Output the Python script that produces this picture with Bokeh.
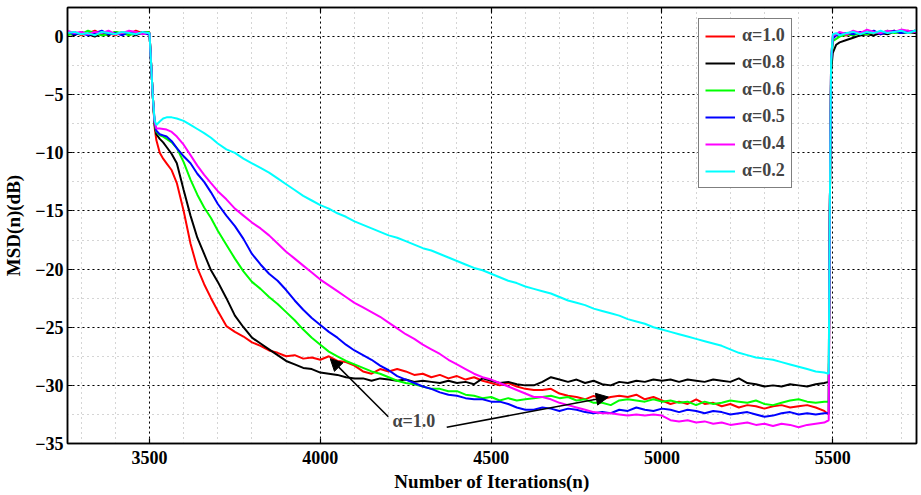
from bokeh.plotting import figure
from bokeh.models import (Range1d, LinearAxis, SingleIntervalTicker, Legend,
                          LegendItem, Arrow, NormalHead, Label, CustomJSTickFormatter)
from bokeh.embed import file_html
from bokeh.resources import INLINE

# ---------------- data ----------------
iters = ([3260, 3280, 3300, 3320, 3340, 3360, 3380, 3400, 3420, 3440, 3460, 3480, 3495,
          3500, 3505, 3510, 3515, 3520,
          3530, 3540, 3550, 3565, 3580, 3600, 3620, 3640, 3660, 3680, 3700, 3725, 3750, 3775, 3800]
         + list(range(3825, 5476, 25))
         + [5488, 5491, 5495, 5500, 5510,
            5520, 5540, 5560, 5580, 5600, 5620, 5640, 5660, 5680, 5700, 5720, 5740, 5750])

msd_a10 = ([0.2, 0.4, 0.1, 0.3, 0.5, 0.2, 0.3, 0.1, 0.4, 0.2, 0.5, 0.3, 0.4]
           + [0.3, -2.5, -5.3, -7.8, -8.9, -10.0, -10.5, -10.9, -11.5, -12.6, -15.0, -17.8, -19.9,
              -21.3, -22.5, -23.6, -24.9, -25.4, -25.8, -26.3]
           + [-26.6, -27.0, -27.2, -27.5, -27.4, -27.7, -27.6, -27.8, -27.5, -27.9,
              -28.0, -28.3, -28.8, -29.0, -28.6, -28.8, -28.6, -28.8, -29.1, -29.0,
              -29.3, -29.1, -29.4, -29.2, -29.5, -29.3, -29.6, -29.8, -30.0, -29.8,
              -30.1, -30.3, -30.4, -30.4, -30.3, -30.7, -30.9, -31.0, -31.2, -30.9,
              -31.2, -31.0, -30.9, -31.0, -30.8, -31.2, -31.0, -31.3, -31.6, -31.4,
              -31.6, -31.2, -31.6, -31.5, -31.8, -31.6, -31.9, -31.7, -31.8, -32.0,
              -31.8, -31.7, -31.9, -31.8, -31.7, -31.9, -32.2]
           + [-32.5, -16.0, -2.0, 0.0, 0.1,
              0.2, 0.1, 0.3, 0.2, 0.4, 0.3, 0.2, 0.4, 0.5, 0.3, 0.5, 0.4, 0.5])

msd_a08 = ([0.3, 0.1, 0.4, 0.2, 0.0, 0.3, 0.1, 0.4, 0.2, 0.3, 0.1, 0.4, 0.3]
           + [0.3, -2.5, -5.3, -7.6, -8.4, -8.8, -9.1, -9.5, -10.1, -10.9, -13.2, -15.4, -17.3,
              -18.7, -20.1, -21.1, -22.5, -24.0, -25.0, -25.9]
           + [-26.4, -26.9, -27.4, -27.9, -28.2, -28.5, -28.6, -28.9, -29.0, -29.1,
              -29.3, -29.4, -29.4, -29.6, -29.4, -29.5, -29.6, -29.5, -29.7, -29.6,
              -29.7, -29.8, -29.6, -29.8, -29.7, -29.9, -29.4, -29.6, -29.8, -29.7,
              -29.9, -30.0, -30.0, -29.7, -29.3, -29.5, -29.7, -29.5, -29.8, -29.6,
              -29.9, -30.0, -29.7, -29.8, -29.6, -29.7, -29.5, -29.6, -29.5, -29.7,
              -29.5, -29.6, -29.7, -29.5, -29.6, -29.7, -29.4, -29.8, -29.9, -30.1,
              -30.0, -30.1, -29.9, -30.0, -30.1, -29.9, -29.8]
           + [-29.7, -16.0, -3.0, -1.4, -0.7,
              -0.5, -0.3, -0.1, 0.1, 0.2, 0.1, 0.3, 0.2, 0.4, 0.3, 0.4, 0.3, 0.4])

msd_a06 = ([0.1, 0.3, 0.2, 0.5, 0.3, 0.1, 0.2, 0.4, 0.3, 0.1, 0.3, 0.2, 0.4]
           + [0.3, -2.5, -5.3, -7.5, -8.2, -8.5, -8.6, -8.8, -9.1, -9.6, -10.8, -12.3, -13.6,
              -14.7, -15.6, -16.7, -17.9, -19.1, -20.2, -21.1]
           + [-21.7, -22.4, -23.0, -23.7, -24.4, -25.2, -25.9, -26.5, -27.1, -27.5,
              -27.9, -28.2, -28.5, -28.8, -29.0, -29.3, -29.6, -29.8, -29.9, -30.1,
              -30.3, -30.3, -30.5, -30.5, -30.8, -30.9, -31.1, -31.0, -31.3, -31.1,
              -31.3, -31.2, -31.1, -31.0, -30.9, -31.1, -31.0, -31.3, -31.2, -31.5,
              -31.5, -31.7, -31.3, -31.2, -31.3, -31.4, -31.2, -31.4, -31.3, -31.5,
              -31.4, -31.7, -31.4, -31.6, -31.5, -31.3, -31.4, -31.5, -31.3, -31.6,
              -31.7, -31.5, -31.3, -31.2, -31.4, -31.5, -31.4]
           + [-31.4, -16.0, -2.5, -0.4, -0.2,
              0.0, 0.2, 0.1, 0.3, 0.2, 0.4, 0.3, 0.5, 0.3, 0.4, 0.3, 0.5, 0.4])

msd_a05 = ([0.4, 0.2, 0.3, 0.1, 0.3, 0.5, 0.2, 0.3, 0.1, 0.4, 0.2, 0.3, 0.2]
           + [0.3, -2.5, -5.3, -7.4, -8.1, -8.4, -8.5, -8.6, -9.0, -9.6, -10.3, -10.9, -11.8,
              -12.5, -13.4, -14.4, -15.4, -16.3, -17.4, -18.7]
           + [-19.6, -20.4, -21.0, -21.8, -22.7, -23.5, -24.2, -24.8, -25.4, -25.9,
              -26.5, -27.0, -27.4, -27.8, -28.3, -28.7, -29.2, -29.5, -29.8, -30.1,
              -30.3, -30.6, -30.8, -30.9, -31.1, -31.2, -31.2, -31.4, -31.4, -31.6,
              -31.9, -32.1, -32.1, -31.9, -32.0, -32.2, -32.0, -32.1, -32.3, -32.4,
              -32.3, -32.4, -32.1, -32.2, -31.9, -32.1, -32.2, -32.0, -32.1, -32.3,
              -32.1, -32.2, -32.4, -32.2, -32.3, -32.5, -32.4, -32.3, -32.5, -32.7,
              -32.6, -32.4, -32.3, -32.5, -32.4, -32.5, -32.4]
           + [-32.4, -16.0, -2.2, -0.2, 0.1,
              0.2, 0.3, 0.2, 0.4, 0.3, 0.5, 0.2, 0.4, 0.5, 0.3, 0.4, 0.5, 0.4])

msd_a04 = ([0.5, 0.3, 0.4, 0.2, 0.4, 0.3, 0.5, 0.2, 0.3, 0.5, 0.4, 0.2, 0.3]
           + [0.3, -2.5, -5.3, -7.3, -7.9, -7.9, -7.95, -8.0, -8.2, -8.6, -9.3, -10.2, -11.1,
              -11.9, -12.6, -13.3, -14.0, -14.8, -15.4, -16.0]
           + [-16.5, -17.1, -17.8, -18.5, -19.1, -19.7, -20.3, -20.9, -21.4, -21.9,
              -22.4, -22.9, -23.3, -23.7, -24.1, -24.6, -25.1, -25.6, -26.0, -26.5,
              -26.9, -27.3, -27.8, -28.2, -28.6, -29.0, -29.3, -29.5, -29.8, -30.1,
              -30.4, -30.7, -31.0, -31.0, -31.2, -31.5, -31.7, -31.9, -32.1, -32.3,
              -32.4, -32.4, -32.5, -32.6, -32.5, -32.6, -32.5, -32.6, -33.0, -33.1,
              -33.0, -33.2, -33.1, -33.3, -33.2, -33.4, -33.3, -33.2, -33.4, -33.3,
              -33.5, -33.3, -33.4, -33.6, -33.4, -33.3, -33.2]
           + [-33.0, -16.0, -2.0, 0.1, 0.2,
              0.4, 0.2, 0.5, 0.3, 0.6, 0.4, 0.3, 0.5, 0.4, 0.6, 0.5, 0.4, 0.5])

msd_a02 = ([0.3, 0.4, 0.2, 0.3, 0.1, 0.4, 0.3, 0.2, 0.4, 0.3, 0.2, 0.4, 0.3]
           + [0.3, -2.5, -5.3, -7.2, -7.6, -7.3, -7.05, -6.95, -6.95, -7.05, -7.25, -7.6, -7.95,
              -8.3, -8.7, -9.2, -9.7, -10.0, -10.5, -10.9]
           + [-11.3, -11.7, -12.2, -12.7, -13.2, -13.7, -14.1, -14.5, -14.8, -15.2,
              -15.5, -15.9, -16.2, -16.5, -16.8, -17.1, -17.3, -17.6, -17.9, -18.2,
              -18.4, -18.7, -19.0, -19.3, -19.6, -19.9, -20.1, -20.4, -20.7, -21.0,
              -21.2, -21.5, -21.7, -21.9, -22.1, -22.4, -22.7, -22.9, -23.1, -23.4,
              -23.6, -23.8, -24.0, -24.3, -24.5, -24.7, -25.0, -25.2, -25.4, -25.6,
              -25.8, -26.0, -26.2, -26.4, -26.6, -26.9, -27.2, -27.4, -27.6, -27.7,
              -27.8, -28.0, -28.2, -28.4, -28.6, -28.8, -28.9]
           + [-29.0, -16.0, -2.0, 0.2, 0.3,
              0.1, 0.3, 0.4, 0.2, 0.4, 0.3, 0.5, 0.3, 0.4, 0.5, 0.3, 0.5, 0.4])

series_labels = ["α=1.0", "α=0.8", "α=0.6", "α=0.5", "α=0.4", "α=0.2"]
series_values = [msd_a10, msd_a08, msd_a06, msd_a05, msd_a04, msd_a02]
series_colors = ["#FF0000", "#000000", "#00FF00", "#0000FF", "#FF00FF", "#00FFFF"]

x_ticks_major = 500
y_ticks_major = 5
y_tick_values = [-35, -30, -25, -20, -15, -10, -5, 0]

annot_text = "α=1.0"
annot_pos = (4211, -33.1)
arrow1 = (4199, -32.7, 4029, -27.7)
arrow2 = (4370, -33.6, 4843, -31.0)

for v in series_values:
    assert len(v) == len(iters), (len(v), len(iters))

FONT = "Liberation Serif"

# ---------------- figure ----------------
p = figure(width=921, height=495, output_backend="svg", toolbar_location=None,
           x_range=Range1d(3260, 5745), y_range=Range1d(-35, 2.5),
           min_border_left=67, min_border_right=5, min_border_top=7, min_border_bottom=52)
p.background_fill_color = "white"
p.border_fill_color = "white"
p.outline_line_color = "black"
p.outline_line_width = 1.5
p.outline_line_alpha = 1

xt = SingleIntervalTicker(interval=x_ticks_major, num_minor_ticks=5)
yt = SingleIntervalTicker(interval=y_ticks_major, num_minor_ticks=2)

for ax, t in ((p.xaxis[0], xt), (p.yaxis[0], yt)):
    ax.ticker = t
    ax.major_tick_in = 5
    ax.major_tick_out = 0
    ax.minor_tick_in = 0
    ax.minor_tick_out = 0
    ax.axis_line_color = "black"
    ax.axis_line_width = 1.5
    ax.major_tick_line_color = "black"
    ax.major_tick_line_width = 1.2
    ax.major_label_text_font = FONT
    ax.major_label_text_font_style = "bold"
    ax.major_label_text_font_size = "18px"
    ax.major_label_text_color = "black"
    ax.axis_label_text_font = FONT
    ax.axis_label_text_font_style = "bold"
    ax.axis_label_text_font_size = "19px"
    ax.axis_label_text_color = "black"

p.xaxis[0].axis_label = "Number of Iterations(n)"
p.xaxis[0].major_label_standoff = 7
p.xaxis[0].axis_label_standoff = 4
p.yaxis[0].axis_label = "MSD(n)(dB)"
p.yaxis[0].major_label_standoff = 4
p.yaxis[0].axis_label_standoff = 8
p.yaxis[0].major_label_overrides = {v: ("\u2212" + str(abs(v)) if v < 0 else str(v)) for v in y_tick_values}

# box axes (right / top) with inward ticks and no labels
for loc, t in (("right", yt), ("above", xt)):
    ax = LinearAxis(ticker=t, major_tick_in=5, major_tick_out=0, minor_tick_in=0, minor_tick_out=0,
                    formatter=CustomJSTickFormatter(code="return ''"),
                    major_label_text_font_size="0px", major_label_standoff=0,
                    axis_line_color="black", axis_line_width=1.5, major_tick_line_width=1.2)
    p.add_layout(ax, loc)

for g, t in ((p.xgrid[0], xt), (p.ygrid[0], yt)):
    g.ticker = t
    g.grid_line_color = "black"
    g.grid_line_dash = "2 3"
    g.grid_line_width = 1
    g.minor_grid_line_color = "#aaaaaa"
    g.minor_grid_line_dash = "1 4"
    g.minor_grid_line_width = 1

renderers = []
for vals, col in zip(series_values, series_colors):
    r = p.line(iters, vals, line_color=col, line_width=2)
    renderers.append(r)

legend = Legend(items=[LegendItem(label=l, renderers=[r]) for l, r in zip(series_labels, renderers)],
                location=(631, 255))
legend.border_line_color = "black"
legend.border_line_width = 1.5
legend.background_fill_color = "white"
legend.background_fill_alpha = 1
legend.label_text_font = FONT
legend.label_text_font_style = "bold"
legend.label_text_font_size = "18px"
legend.glyph_width = 30
legend.glyph_height = 20
legend.label_height = 20
legend.spacing = 6
legend.padding = 6
legend.margin = 0
legend.label_standoff = 7
p.add_layout(legend)

for (xs, ys, xe, ye) in (arrow1, arrow2):
    p.add_layout(Arrow(end=NormalHead(size=12, fill_color="black", line_color="black"),
                       x_start=xs, y_start=ys, x_end=xe, y_end=ye,
                       line_color="black", line_width=1.5))

p.add_layout(Label(x=annot_pos[0], y=annot_pos[1], text=annot_text, text_baseline="middle",
                   text_font=FONT, text_font_style="bold", text_font_size="18px",
                   background_fill_color="white", background_fill_alpha=0))

open("out.html", "w").write(file_html(p, INLINE))
